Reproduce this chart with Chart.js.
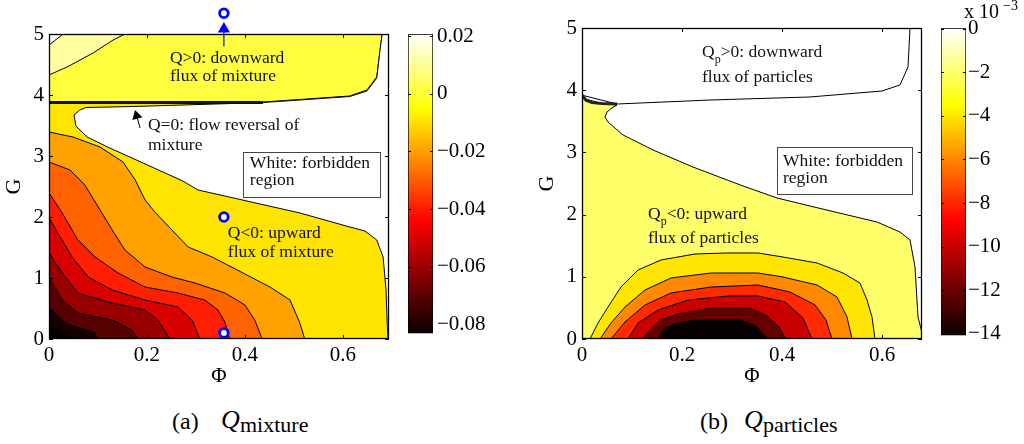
<!DOCTYPE html>
<html><head><meta charset="utf-8">
<script src="https://cdn.jsdelivr.net/npm/chart.js@4.4.1/dist/chart.umd.min.js"></script>
<style>
html,body{margin:0;padding:0;background:#fff;width:1024px;height:444px;overflow:hidden;position:relative;font-family:'Liberation Serif',serif;color:#000;}
canvas{position:absolute;}
.t{position:absolute;white-space:nowrap;line-height:1;}
</style></head><body>
<canvas id="ca" width="400" height="389" style="left:0px;top:0px"></canvas>
<canvas id="cba" width="100" height="350" style="left:400px;top:0px"></canvas>
<canvas id="cb" width="400" height="389" style="left:533px;top:0px"></canvas>
<canvas id="cbb" width="91" height="350" style="left:933px;top:0px"></canvas>
<div class="t" style="left:172px;top:409px;font-size:24px">(a)</div>
<div class="t" style="left:221px;top:407px;font-size:26px;font-style:italic">Q</div>
<div class="t" style="left:240px;top:414px;font-size:22px">mixture</div>
<div class="t" style="left:700px;top:409px;font-size:24px">(b)</div>
<div class="t" style="left:744px;top:407px;font-size:26px;font-style:italic">Q</div>
<div class="t" style="left:763px;top:414px;font-size:22px">particles</div>
<div class="t" style="left:964px;top:1px;font-size:20px">x 10</div>
<div class="t" style="left:1003px;top:-1px;font-size:14px">&minus;3</div>
<script>
// ---------------- data ----------------
const phiTicks = [0, 0.2, 0.4, 0.6];
const gTicks = [0, 1, 2, 3, 4, 5];
const phiRangeA = [0, 0.694];
const phiRangeB = [0, 0.68];
const gRange = [0, 5];

// Panel (a): Q_mixture contour lines, [Phi, G]
const mixZeroUpper = [[0,3.877],[0.206,3.877],[0.437,3.885],[0.512,3.926],[0.614,3.984],[0.649,4.082],[0.669,4.295],[0.676,4.738],[0.680,5.0]];
const mixP001 = [[0,4.328],[0.037,4.459],[0.090,4.689],[0.131,4.902],[0.155,5.0]];
const mixP002 = [[0,4.82],[0.029,5.0]];
const mixForbidden = [[0.051,3.672],[0.063,3.754],[0.0755,3.795],[0.171,3.811],[0.3755,3.861],[0.437,3.877],[0.512,3.918],[0.614,3.975],[0.649,4.066],[0.669,4.279],[0.6755,4.721],[0.680,5.0],[0.75,5.0],[0.75,0],[0.692,0],[0.690,0.311],[0.688,0.803],[0.682,1.344],[0.669,1.623],[0.645,1.770],[0.614,1.836],[0.512,2.066],[0.431,2.213],[0.359,2.344],[0.304,2.443],[0.273,2.590],[0.192,2.885],[0.124,3.131],[0.078,3.311],[0.055,3.492],[0.051,3.672]];
const mixM001 = [[0,3.393],[0.049,3.311],[0.104,3.148],[0.151,2.902],[0.176,2.607],[0.196,2.279],[0.216,2.082],[0.251,1.787],[0.284,1.508],[0.333,1.344],[0.396,1.082],[0.451,0.852],[0.492,0.639],[0.512,0.262],[0.522,0]];
const mixM002 = [[0,2.902],[0.043,2.770],[0.073,2.525],[0.098,2.197],[0.129,1.787],[0.155,1.459],[0.196,1.180],[0.251,1.016],[0.298,0.918],[0.359,0.754],[0.400,0.557],[0.420,0.311],[0.435,0]];
const mixM003 = [[0,2.393],[0.027,2.066],[0.059,1.623],[0.094,1.344],[0.141,1.082],[0.196,0.852],[0.263,0.754],[0.318,0.639],[0.345,0.475],[0.359,0.279],[0.369,0]];
const mixM004 = [[0,1.984],[0.018,1.738],[0.047,1.344],[0.080,1.016],[0.129,0.803],[0.196,0.639],[0.263,0.525],[0.292,0.311],[0.308,0]];
const mixM005 = [[0,1.410],[0.027,1.082],[0.059,0.754],[0.129,0.590],[0.196,0.475],[0.222,0.311],[0.247,0]];
const mixM006 = [[0,1.0],[0.027,0.639],[0.059,0.426],[0.129,0.311],[0.169,0.148],[0.182,0]];
const mixM007 = [[0,0.525],[0.033,0.262],[0.094,0.098],[0.100,0]];
const mixM008 = [[0,0.197],[0.047,0.033],[0.053,0]];
const mixCrowded = [[0,3.877],[0.437,3.877]];
const mixMarkers = [[0.357,2.0],[0.357,5.34],[0.357,0.1]];
const mixBlueArrow = [[0.357,4.80],[0.357,5.082]];
const mixBlackArrow = [[0.186,3.459],[0.1788,3.659]];

// Panel (b): Q_particles contour lines (x 1e-3), [Phi, G]
const partDomain = [[0,0],[0,3.875],[0.036,3.794],[0.07,3.762],[0.06,3.714],[0.05,3.650],[0.046,3.569],[0.052,3.489],[0.082,3.280],[0.142,3.039],[0.222,2.765],[0.322,2.460],[0.39,2.267],[0.456,2.138],[0.59,1.881],[0.636,1.720],[0.656,1.592],[0.666,1.158],[0.672,0.354],[0.68,0.096],[0.68,0]];
const partZeroUpper = [[0,3.92],[0.07,3.778],[0.256,3.842],[0.456,3.891],[0.6,3.987],[0.636,4.084],[0.652,4.373],[0.656,5.0]];
const partM2 = [[0.016,0],[0.032,0.257],[0.052,0.514],[0.078,0.836],[0.112,1.109],[0.158,1.270],[0.226,1.367],[0.292,1.383],[0.352,1.383],[0.402,1.318],[0.470,1.222],[0.522,1.061],[0.556,0.900],[0.570,0.627],[0.580,0.354],[0.586,0]];
const partM4 = [[0.036,0],[0.058,0.257],[0.086,0.514],[0.126,0.788],[0.178,0.981],[0.258,1.061],[0.352,1.061],[0.402,0.997],[0.470,0.868],[0.510,0.675],[0.530,0.354],[0.540,0]];
const partM6 = [[0.058,0],[0.086,0.273],[0.126,0.547],[0.178,0.740],[0.258,0.836],[0.352,0.868],[0.416,0.756],[0.466,0.547],[0.488,0.305],[0.500,0]];
const partM8 = [[0.092,0],[0.112,0.257],[0.152,0.466],[0.212,0.627],[0.292,0.691],[0.352,0.691],[0.406,0.595],[0.442,0.338],[0.460,0]];
const partM10 = [[0.122,0],[0.136,0.145],[0.156,0.305],[0.192,0.402],[0.258,0.498],[0.336,0.498],[0.370,0.370],[0.394,0.193],[0.408,0]];
const partM12 = [[0.152,0],[0.166,0.177],[0.186,0.241],[0.226,0.305],[0.316,0.305],[0.348,0.209],[0.360,0.096],[0.372,0]];
const partCrowded = [[0,3.92],[0.008,3.84],[0.02,3.80],[0.04,3.785],[0.07,3.778]];

// colorbars
const cbRangeA = [-0.0831, 0.0207];
const cbTicksA = [0.02, 0, -0.02, -0.04, -0.06, -0.08];
const cbRangeB = [-14.07, 0.03];
const cbTicksB = [0, -2, -4, -6, -8, -10, -12, -14];

// ---------------- styles ----------------
const FONT = 'Liberation Serif';
const TICK_SIZE = 21;
const HOT = [[0,'#0a0000'],[0.375,'#ff0000'],[0.75,'#ffff00'],[1,'#ffffff']];
const P = a => a.map(([x, y]) => ({x, y}));

function poly(pts, color, border) {
  return {data: P(pts), fill: 'shape', backgroundColor: color, borderColor: '#000',
          borderWidth: border, pointRadius: 0, pointHoverRadius: 0, clip: 0};
}
function corner(pts) { return pts.concat([[0, 0]]); }
function above(pts) { return pts.concat([[0, 5]]); }

const fmt = v => (v < 0 ? '\u2212' : '') + String(Math.abs(v));

const boxTicks = {
  id: 'boxTicks',
  afterDatasetsDraw(chart) {
    const {ctx, chartArea: a, scales: {x, y}} = chart;
    ctx.save();
    ctx.strokeStyle = '#000'; ctx.lineWidth = 1;
    ctx.beginPath();
    const L = 4;
    x.ticks.forEach(t => { const p = Math.round(x.getPixelForValue(t.value)) + 0.5;
      ctx.moveTo(p, a.bottom); ctx.lineTo(p, a.bottom - L); ctx.moveTo(p, a.top); ctx.lineTo(p, a.top + L); });
    y.ticks.forEach(t => { const p = Math.round(y.getPixelForValue(t.value)) + 0.5;
      ctx.moveTo(a.left, p); ctx.lineTo(a.left + L, p); ctx.moveTo(a.right, p); ctx.lineTo(a.right - L, p); });
    ctx.stroke();
    ctx.lineWidth = 1.3;
    ctx.strokeRect(Math.round(a.left) + 0.5, Math.round(a.top) + 0.5, Math.round(a.right - a.left) - 1, Math.round(a.bottom - a.top) - 1);
    ctx.restore();
  }
};

const texts = {
  id: 'texts',
  afterDatasetsDraw(chart, args, opts) {
    const {ctx, scales: {x, y}} = chart;
    ctx.save();
    (opts.boxes || []).forEach(b => {
      const x0 = x.getPixelForValue(b[0]), y0 = y.getPixelForValue(b[1]);
      const x1 = x.getPixelForValue(b[2]), y1 = y.getPixelForValue(b[3]);
      ctx.fillStyle = '#fff'; ctx.fillRect(x0, y0, x1 - x0, y1 - y0);
      ctx.strokeStyle = '#444'; ctx.lineWidth = 1;
      ctx.strokeRect(Math.round(x0) + 0.5, Math.round(y0) + 0.5, Math.round(x1 - x0), Math.round(y1 - y0));
    });
    ctx.fillStyle = '#111'; ctx.textBaseline = 'alphabetic'; ctx.textAlign = 'left';
    (opts.items || []).forEach(it => {
      let px = x.getPixelForValue(it.at[0]); const py = y.getPixelForValue(it.at[1]);
      it.parts.forEach(s => {
        ctx.font = (s.sub ? 12 : 17.5) + 'px "' + FONT + '"';
        ctx.fillText(s.t, px, py + (s.sub ? 6 : 0));
        px += ctx.measureText(s.t).width;
      });
    });
    ctx.restore();
  }
};

function mainChart(id, xRange, topPad, datasets, textOpts) {
  datasets.forEach((d, i) => { d.order = -i; });
  return new Chart(document.getElementById(id), {
    type: 'line',
    data: {datasets},
    options: {
      responsive: false, animation: false, devicePixelRatio: 1, events: [],
      layout: {autoPadding: false, padding: {top: topPad, right: 11, left: 0, bottom: 0}},
      plugins: {legend: {display: false}, tooltip: {enabled: false}, texts: textOpts},
      elements: {point: {radius: 0}, line: {tension: 0}},
      scales: {
        x: {type: 'linear', min: xRange[0], max: xRange[1],
            grid: {display: false, drawTicks: false}, border: {display: false},
            ticks: {font: {family: FONT, size: TICK_SIZE}, color: '#000', padding: 4, maxRotation: 0, autoSkip: false, callback: v => fmt(v)},
            afterBuildTicks: s => { s.ticks = phiTicks.map(v => ({value: v})); },
            afterFit: s => { s.height = 50; },
            title: {display: true, text: '\u03A6', font: {family: FONT, size: 21}, color: '#000', padding: {top: 0, bottom: 0}}},
        y: {type: 'linear', min: gRange[0], max: gRange[1],
            grid: {display: false, drawTicks: false}, border: {display: false},
            ticks: {font: {family: FONT, size: TICK_SIZE}, color: '#000', padding: 5, autoSkip: false, callback: v => fmt(v)},
            afterBuildTicks: s => { s.ticks = gTicks.map(v => ({value: v})); },
            afterFit: s => { s.width = 49; },
            title: {display: true, text: 'G', font: {family: FONT, size: 22}, color: '#000', padding: {top: 1, bottom: 0}}}
      }
    },
    plugins: [texts, boxTicks]
  });
}

// ---- panel (a)
const colA = {base: '#ffe400', pos: '#ffff40', pos1: '#ffffa0', pos2: '#fffff6',
  m1: '#ffa200', m2: '#ff6200', m3: '#ff1e00', m4: '#d90000', m5: '#980000', m6: '#560000', m7: '#160000', m8: '#000000'};
const dsA = [
  poly([[0,0],[0,5],[phiRangeA[1],5],[phiRangeA[1],0]], colA.base, 0),
  poly(above(mixZeroUpper), colA.pos, 1),
  poly(above(mixP001), colA.pos1, 1),
  poly(above(mixP002), colA.pos2, 1),
  poly(mixForbidden, '#ffffff', 1),
  poly(corner(mixM001), colA.m1, 1),
  poly(corner(mixM002), colA.m2, 1),
  poly(corner(mixM003), colA.m3, 1),
  poly(corner(mixM004), colA.m4, 1),
  poly(corner(mixM005), colA.m5, 1),
  poly(corner(mixM006), colA.m6, 1),
  poly(corner(mixM007), colA.m7, 1),
  poly(corner(mixM008), colA.m8, 1),
  {data: P(mixCrowded), borderColor: '#111', borderWidth: 3, pointRadius: 0, pointHoverRadius: 0, fill: false},
  {data: P(mixBlackArrow), borderColor: '#000', borderWidth: 1, fill: false,
   pointRadius: [0, 6], pointHoverRadius: 0, pointStyle: 'triangle', pointRotation: -15.5, pointBackgroundColor: '#000', pointBorderWidth: 0, pointBorderColor: '#000'},
  {data: P(mixBlueArrow), borderColor: '#0000ff', borderWidth: 1.2, fill: false, clip: false,
   pointRadius: [0, 7], pointHoverRadius: [0, 7], pointStyle: 'triangle', pointRotation: 0, pointBackgroundColor: '#0000ff', pointBorderWidth: 0, pointBorderColor: '#0000ff'},
  {data: P(mixMarkers), showLine: false, fill: false, clip: false, pointRadius: 4.3, pointHoverRadius: [0, 30, 0], pointStyle: 'circle',
   pointBorderWidth: 2.8, pointBorderColor: '#0000ff', pointBackgroundColor: '#ffffff'}
];

mainChart('ca', phiRangeA, 34, dsA, {
  boxes: [[0.396, 3.066, 0.676, 2.328]],
  items: [
    {at: [0.247, 4.525], parts: [{t: 'Q>0: downward'}]},
    {at: [0.247, 4.230], parts: [{t: 'flux of mixture'}]},
    {at: [0.202, 3.426], parts: [{t: 'Q=0: flow reversal of'}]},
    {at: [0.202, 3.098], parts: [{t: 'mixture'}]},
    {at: [0.410, 2.803], parts: [{t: 'White: forbidden'}]},
    {at: [0.410, 2.525], parts: [{t: 'region'}]},
    {at: [0.365, 1.656], parts: [{t: 'Q<0: upward'}]},
    {at: [0.365, 1.344], parts: [{t: 'flux of mixture'}]}
  ]
});

// ---- panel (b)
const colB = {base: '#ffff69', m2: '#ffe500', m4: '#ff8800', m6: '#ff2a00', m8: '#c80000', m10: '#640000', m12: '#060000'};
const dsB = [
  poly(partDomain, colB.base, 1),
  poly(above(partZeroUpper), '#ffffff', 1),
  poly(partM2, colB.m2, 1),
  poly(partM4, colB.m4, 1),
  poly(partM6, colB.m6, 1),
  poly(partM8, colB.m8, 1),
  poly(partM10, colB.m10, 1),
  poly(partM12, colB.m12, 1),
  {data: P(partCrowded), borderColor: '#222', borderWidth: 3, pointRadius: 0, pointHoverRadius: 0, fill: false}
];

mainChart('cb', phiRangeB, 28, dsB, {
  boxes: [[0.39, 3.087, 0.66, 2.331]],
  items: [
    {at: [0.24, 4.534], parts: [{t: 'Q'}, {t: 'p', sub: true}, {t: '>0: downward'}]},
    {at: [0.24, 4.132], parts: [{t: 'flux of particles'}]},
    {at: [0.402, 2.781], parts: [{t: 'White: forbidden'}]},
    {at: [0.402, 2.508], parts: [{t: 'region'}]},
    {at: [0.132, 1.929], parts: [{t: 'Q'}, {t: 'p', sub: true}, {t: '<0: upward'}]},
    {at: [0.132, 1.543], parts: [{t: 'flux of particles'}]}
  ]
});

// ---- colorbars
const cbTickMarks = {
  id: 'cbTickMarks',
  afterDatasetsDraw(chart) {
    const {ctx, chartArea: a, scales: {y}} = chart;
    ctx.save(); ctx.strokeStyle = '#000'; ctx.lineWidth = 1; ctx.beginPath();
    y.ticks.forEach(t => { const p = Math.round(y.getPixelForValue(t.value)) + 0.5;
      ctx.moveTo(a.left, p); ctx.lineTo(a.left + 3, p); ctx.moveTo(a.right, p); ctx.lineTo(a.right - 3, p); });
    ctx.stroke(); ctx.restore();
  }
};
function colorbar(id, range, ticks, topPad, axisW, labelPad) {
  return new Chart(document.getElementById(id), {
    type: 'bar',
    data: {labels: [''], datasets: [{data: [range], borderColor: '#000', borderWidth: 1, borderSkipped: false,
      barPercentage: 1, categoryPercentage: 1,
      backgroundColor: c => {
        const a = c.chart.chartArea; if (!a) return '#000';
        const g = c.chart.ctx.createLinearGradient(0, a.bottom, 0, a.top);
        HOT.forEach(([p, col]) => g.addColorStop(p, col));
        return g;
      }}]},
    options: {
      responsive: false, animation: false, devicePixelRatio: 1, events: [],
      layout: {autoPadding: false, padding: {left: 8, top: topPad, bottom: 10, right: 0}},
      plugins: {legend: {display: false}, tooltip: {enabled: false}},
      scales: {
        x: {display: false},
        y: {position: 'right', min: range[0], max: range[1],
            grid: {display: false, drawTicks: false}, border: {display: false},
            ticks: {font: {family: FONT, size: TICK_SIZE}, color: '#000', padding: labelPad, autoSkip: false, callback: v => fmt(v)},
            afterBuildTicks: s => { s.ticks = ticks.map(v => ({value: v})); },
            afterFit: s => { s.width = axisW; }}
      }
    },
    plugins: [cbTickMarks]
  });
}
colorbar('cba', cbRangeA, cbTicksA, 34, 67, 4);
colorbar('cbb', cbRangeB, cbTicksB, 28, 58, 2);
</script>
</body></html>
